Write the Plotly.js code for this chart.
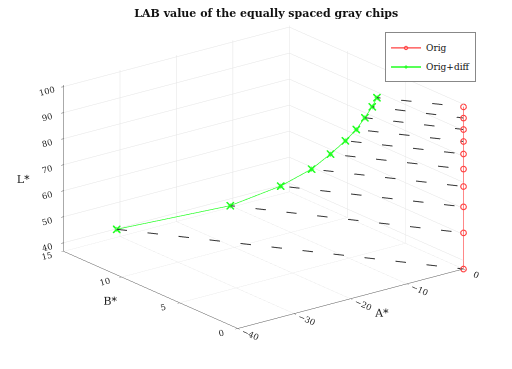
<!DOCTYPE html>
<html>
<head>
<meta charset="utf-8">
<script src="https://cdn.plot.ly/plotly-3.0.1.min.js"></script>
<style>
  html, body { margin: 0; padding: 0; background: #fff; }
  #chart { width: 512px; height: 369px; }
</style>
</head>
<body>
<div id="chart"></div>
<script>
// L* of the gray chips (original, neutral: A* = B* = 0)
var origL = [36.7, 50.6, 60.6, 68.4, 75.1, 80.9, 85.7, 90.3, 94.7, 99.0];
var origA = [0, 0, 0, 0, 0, 0, 0, 0, 0, 0];
var origB = [0, 0, 0, 0, 0, 0, 0, 0, 0, 0];

// chips after the difference was added
var diffA = [-30.6, -19.1, -15.1, -12.5, -11.0, -9.8, -8.9, -8.0, -7.3, -7.3];
var diffB = [15.0, 10.8, 8.4, 7.0, 6.1, 5.4, 4.9, 4.6, 4.3, 3.9];
var diffL = [39.8, 50.6, 60.6, 68.4, 75.1, 80.9, 85.7, 90.3, 94.7, 99.0];

var serif = "DejaVu Serif";

// dashed connectors: one trace, broken with nulls
var cx = [], cy = [], cz = [];
for (var i = 0; i < origL.length; i++) {
  cx.push(diffA[i], origA[i], null);
  cy.push(diffB[i], origB[i], null);
  cz.push(diffL[i], origL[i], null);
}

var connectors = {
  type: "scatter3d",
  mode: "lines",
  x: cx, y: cy, z: cz,
  line: { color: "#333333", width: 2, dash: "dash" },
  showlegend: false,
  hoverinfo: "skip"
};

var orig = {
  type: "scatter3d",
  mode: "lines+markers",
  name: "Orig",
  x: origA, y: origB, z: origL,
  line: { color: "#ff4040", width: 1.2 },
  marker: { symbol: "circle-open", size: 3.5, color: "#ff4040", line: { width: 1, color: "#ff4040" } }
};

var plus = {
  type: "scatter3d",
  mode: "lines+markers",
  name: "Orig+diff",
  x: diffA, y: diffB, z: diffL,
  line: { color: "#20ff20", width: 1.4 },
  marker: { symbol: "cross", size: 2.8, color: "#20ff20" }
};

// second marker layer so the crosses read as asterisks
var plusX = {
  type: "scatter3d",
  mode: "markers",
  x: diffA, y: diffB, z: diffL,
  marker: { symbol: "x", size: 1.8, color: "#20ff20" },
  showlegend: false,
  hoverinfo: "skip"
};

function axis(title, range, dtick) {
  return {
    title: { text: title, font: { family: serif, size: 11, color: "#222" } },
    range: range,
    dtick: dtick,
    tickfont: { family: serif, size: 10, color: "#222" },
    showgrid: true,
    gridcolor: "#e4e4e4",
    gridwidth: 1,
    showline: true,
    linecolor: "#555",
    linewidth: 1,
    ticks: "outside",
    ticklen: 3,
    tickcolor: "#555",
    zeroline: false,
    showbackground: false,
    showspikes: false
  };
}

var layout = {
  width: 512,
  height: 369,
  margin: { l: 0, r: 0, t: 0, b: 0 },
  paper_bgcolor: "#fff",
  title: {
    text: "<b>LAB value of the equally spaced gray chips</b>",
    font: { family: serif, size: 11, color: "#111" },
    x: 0.52, xanchor: "center",
    y: 0.965, yanchor: "middle"
  },
  showlegend: true,
  legend: {
    x: 0.752, y: 0.912, xanchor: "left", yanchor: "top",
    bgcolor: "#fff",
    bordercolor: "#888",
    borderwidth: 1,
    font: { family: serif, size: 9, color: "#111" },
    itemwidth: 30,
    tracegroupgap: 0
  },
  scene: {
    domain: { x: [0.03, 1.0], y: [0.04, 1.0] },
    aspectmode: "manual",
    aspectratio: { x: 1.61, y: 1.61, z: 1.0 },
    camera: {
      eye: { x: -0.574 * 2, y: -0.744 * 2, z: 0.342 * 2 },
      center: { x: 0, y: 0, z: 0 },
      up: { x: 0, y: 0, z: 1 },
      projection: { type: "orthographic" }
    },
    xaxis: axis("A*", [-40, 0], 10),
    yaxis: axis("B*", [0, 15], 5),
    zaxis: axis("L*", [36.7, 100.6], 10)
  }
};

Plotly.newPlot("chart", [connectors, orig, plus, plusX], layout, { displayModeBar: false });
</script>
</body>
</html>
